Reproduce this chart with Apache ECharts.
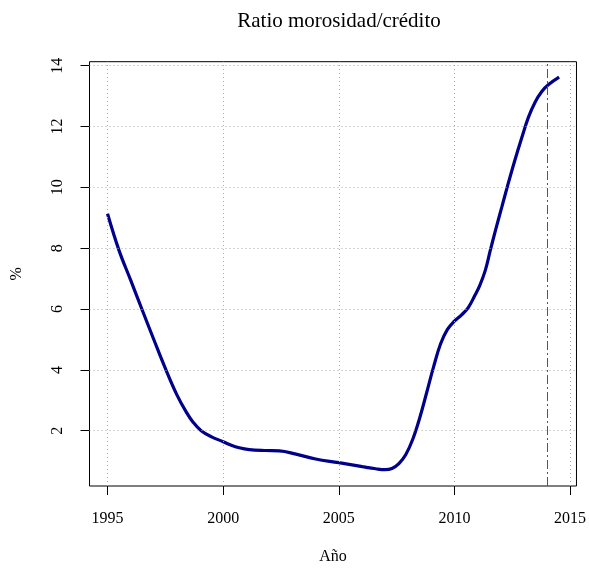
<!DOCTYPE html>
<html>
<head>
<meta charset="utf-8">
<script src="https://cdn.jsdelivr.net/npm/echarts@6/dist/echarts.min.js"></script>
<style>html,body{margin:0;padding:0;background:#fff}#c{width:589px;height:570px}</style>
</head>
<body>
<div id="c"></div>
<script>
const years = [1995.0,1995.5,1996.0,1996.5,1997.0,1997.5,1998.0,1998.4,1998.7,1999.05,1999.5,2000.0,2000.3,2000.7,2001.13,2001.8,2002.43,2003.15,2004.0,2005.0,2006.02,2006.6,2007.0,2007.3,2007.6,2007.9,2008.2,2008.5,2008.8,2009.1,2009.4,2009.7,2010.0,2010.3,2010.6,2010.9,2011.1,2011.34,2011.55,2011.8,2012.05,2012.3,2012.6,2012.91,2013.2,2013.49,2013.78,2014.06,2014.53];
const ratio = [9.13,7.92,6.95,5.97,5.0,4.05,3.18,2.62,2.28,2.0,1.8,1.64,1.54,1.44,1.38,1.35,1.34,1.23,1.07,0.95,0.82,0.75,0.72,0.76,0.92,1.22,1.72,2.42,3.25,4.1,4.85,5.33,5.6,5.8,6.05,6.47,6.78,7.28,7.92,8.65,9.35,10.05,10.85,11.62,12.3,12.8,13.15,13.37,13.62];
const xTicks = [1995,2000,2005,2010,2015];
const yTicks = [2,4,6,8,10,12,14];
const refYear = 2014;

const font = "'Liberation Serif', serif";
const chart = echarts.init(document.getElementById('c'), null, {renderer:'canvas'});
const gridStyle = {color:'#aaaaaa', width:1, type:[1,3]};
const markData = xTicks.map(v => ({xAxis:v, lineStyle:gridStyle}))
  .concat(yTicks.map(v => ({yAxis:v, lineStyle:gridStyle})))
  .concat([{xAxis:refYear, lineStyle:{color:'#555', width:1, type:[9,3,2,3]}}]);

chart.setOption({
  animation:false,
  title:{text:'Ratio morosidad/crédito', left:334, textAlign:'center', top:6,
    textStyle:{fontFamily:font, fontSize:21, fontWeight:'normal', color:'#000'}},
  grid:{left:89.5, right:11, top:61.7, bottom:81, show:true, borderColor:'#000', borderWidth:1, backgroundColor:'transparent'},
  xAxis:{type:'value', min:1994.22, max:2015.28,
    name:'Año', nameLocation:'middle', nameGap:63,
    nameTextStyle:{fontFamily:font, fontSize:16, color:'#000'},
    axisLine:{show:false},
    splitLine:{show:false},
    axisTick:{show:true, inside:false, length:9, customValues:xTicks, lineStyle:{color:'#000'}},
    axisLabel:{customValues:xTicks, margin:25, fontFamily:font, fontSize:16, color:'#000', formatter:v => String(v)}},
  yAxis:{type:'value', min:0.184, max:14.13,
    name:'%', nameLocation:'middle', nameGap:65, nameRotate:90,
    nameTextStyle:{fontFamily:font, fontSize:16, color:'#000'},
    axisLine:{show:false},
    splitLine:{show:false},
    axisTick:{show:true, inside:false, length:9, customValues:yTicks, lineStyle:{color:'#000'}},
    axisLabel:{customValues:yTicks, rotate:90, margin:24, fontFamily:font, fontSize:16, color:'#000', formatter:v => String(v)}},
  series:[{
    type:'line', data:years.map((y,i)=>[y, ratio[i]]), smooth:0.4, showSymbol:false,
    lineStyle:{color:'#00008B', width:3.2},
    markLine:{silent:true, symbol:['none','none'], label:{show:false}, animation:false, data:markData},
    z:3
  }]
});
</script>
</body>
</html>
